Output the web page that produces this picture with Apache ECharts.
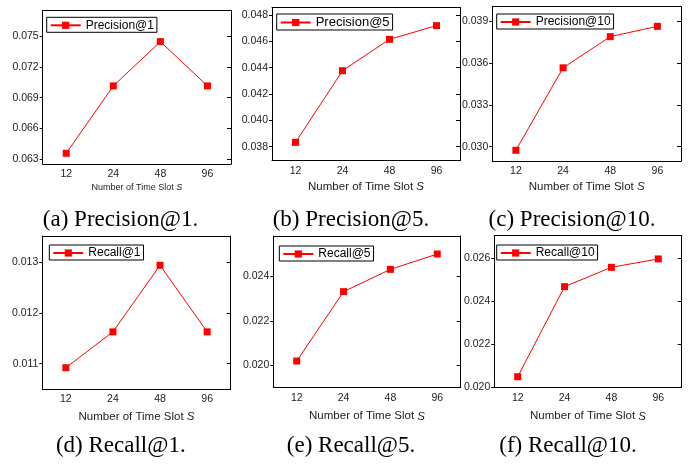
<!DOCTYPE html>
<html>
<head>
<meta charset="utf-8">
<script src="https://cdn.jsdelivr.net/npm/echarts@6/dist/echarts.min.js"></script>
<style>html,body{margin:0;padding:0;background:#fff;}#c{width:696px;height:466px;}</style>
</head>
<body>
<div id="c"></div>
<script>
// ---- data ----
const categories = ['12', '24', '48', '96'];
const seriesNames = ['Precision@1', 'Precision@5', 'Precision@10', 'Recall@1', 'Recall@5', 'Recall@10'];
const precision1 = [0.06358, 0.07014, 0.07445, 0.07014];
const precision5 = [0.03833, 0.04377, 0.04615, 0.04719];
const precision10 = [0.02974, 0.03566, 0.03790, 0.03864];
const recall1 = [0.01092, 0.011626, 0.012935, 0.011626];
const recall5 = [0.02019, 0.02331, 0.02431, 0.02500];
const recall10 = [0.02049, 0.02468, 0.02558, 0.02597];
const yTicksP1 = [0.063, 0.066, 0.069, 0.072, 0.075];
const yTicksP5 = [0.038, 0.040, 0.042, 0.044, 0.046, 0.048];
const yTicksP10 = [0.030, 0.033, 0.036, 0.039];
const yTicksR1 = [0.011, 0.012, 0.013];
const yTicksR5 = [0.020, 0.022, 0.024];
const yTicksR10 = [0.020, 0.022, 0.024, 0.026];
const captions = ['(a) Precision@1.', '(b) Precision@5.', '(c) Precision@10.', '(d) Recall@1.', '(e) Recall@5.', '(f) Recall@10.'];
const xAxisTitle = 'Number of Time Slot {s|S}';

const values = [precision1, precision5, precision10, recall1, recall5, recall10];
const ticks = [yTicksP1, yTicksP5, yTicksP10, yTicksR1, yTicksR5, yTicksR10];

// ---- layout ----
const panels = [
  {left: 42.7, top: 10.7, width: 188.3, height: 153.3, ymin: 0.06254, ymax: 0.07746, nameSize: 9, nameGap: 19, legend: [46.7, 17.3], legendFont: 12, cap: [120.5, 220]},
  {left: 272, top: 7.3, width: 188, height: 153.4, ymin: 0.03694, ymax: 0.04858, nameSize: 11.5, nameGap: 20, legend: [276.7, 14], legendFont: 13, cap: [351, 220]},
  {left: 492.3, top: 6.7, width: 188.7, height: 154.3, ymin: 0.02897, ymax: 0.04005, nameSize: 11.5, nameGap: 20, legend: [496.7, 14], legendFont: 12, cap: [572, 220]},
  {left: 42.3, top: 236, width: 188.4, height: 153, ymin: 0.010502, ymax: 0.013511, nameSize: 11.5, nameGap: 22, legend: [49.3, 245], legendFont: 12, cap: [120.8, 446]},
  {left: 273.3, top: 236, width: 187.4, height: 151.3, ymin: 0.01901, ymax: 0.02581, nameSize: 11.5, nameGap: 23, legend: [279.3, 246], legendFont: 12, cap: [351, 446]},
  {left: 494.3, top: 235.7, width: 187.4, height: 151.6, ymin: 0.0200, ymax: 0.02705, nameSize: 11.5, nameGap: 23, legend: [496.7, 245], legendFont: 12, cap: [568, 446]}
];

const FONT = '"Liberation Sans", Arial, sans-serif';
const RED = '#ff0000';
const grid = [], xAxis = [], yAxis = [], series = [], legend = [], graphic = [];

panels.forEach((p, i) => {
  grid.push({left: p.left, top: p.top, width: p.width, height: p.height, containLabel: false});
  const lineStyle = {color: '#000', width: 1};
  xAxis.push({
    type: 'category', gridIndex: i, data: categories, boundaryGap: true, position: 'bottom',
    axisLine: {lineStyle}, axisTick: {inside: false, length: 3, alignWithLabel: true, lineStyle},
    axisLabel: {color: '#222', fontSize: 10.5, fontFamily: FONT, margin: 5},
    name: xAxisTitle, nameLocation: 'middle', nameGap: p.nameGap,
    nameTextStyle: {color: '#222', fontSize: p.nameSize, fontFamily: FONT,
      rich: {s: {fontStyle: 'italic', fontSize: p.nameSize, fontFamily: FONT, color: '#222'}}}
  });
  xAxis.push({
    type: 'category', gridIndex: i, data: categories, boundaryGap: true, position: 'top',
    axisLine: {lineStyle}, axisTick: {inside: true, length: 3, alignWithLabel: true, lineStyle},
    axisLabel: {show: false}
  });
  yAxis.push({
    type: 'value', gridIndex: i, min: p.ymin, max: p.ymax, position: 'left',
    axisLine: {show: true, lineStyle}, splitLine: {show: false},
    axisTick: {show: true, inside: false, length: 3, lineStyle, customValues: ticks[i]},
    axisLabel: {color: '#222', fontSize: 10.5, fontFamily: FONT, margin: 4, customValues: ticks[i],
      formatter: v => v.toFixed(3)}
  });
  yAxis.push({
    type: 'value', gridIndex: i, min: p.ymin, max: p.ymax, position: 'right',
    axisLine: {show: true, lineStyle}, splitLine: {show: false},
    axisTick: {show: true, inside: true, length: 4, lineStyle, customValues: ticks[i]},
    axisLabel: {show: false, customValues: ticks[i]}
  });
  series.push({
    name: seriesNames[i], type: 'line', xAxisIndex: 2 * i, yAxisIndex: 2 * i,
    data: values[i], symbol: 'rect', symbolSize: 7,
    lineStyle: {color: RED, width: 1}, itemStyle: {color: RED}, animation: false
  });
  legend.push({
    data: [seriesNames[i]], left: p.legend[0], top: p.legend[1], orient: 'horizontal',
    borderColor: '#000', borderWidth: 1, padding: [2, 3, 1, 3], itemWidth: 30, itemHeight: 9, itemGap: 5,
    textStyle: {color: '#000', fontSize: p.legendFont, fontFamily: FONT}, selectedMode: false
  });
  graphic.push({
    type: 'text', x: p.cap[0], y: p.cap[1],
    style: {text: captions[i], fill: '#000', font: '23px "Liberation Serif", "Times New Roman", serif',
      textAlign: 'center', textVerticalAlign: 'middle'}
  });
});

const chart = echarts.init(document.getElementById('c'), null, {renderer: 'canvas'});
chart.setOption({animation: false, backgroundColor: '#fff', grid, xAxis, yAxis, series, legend, graphic});
</script>
</body>
</html>
